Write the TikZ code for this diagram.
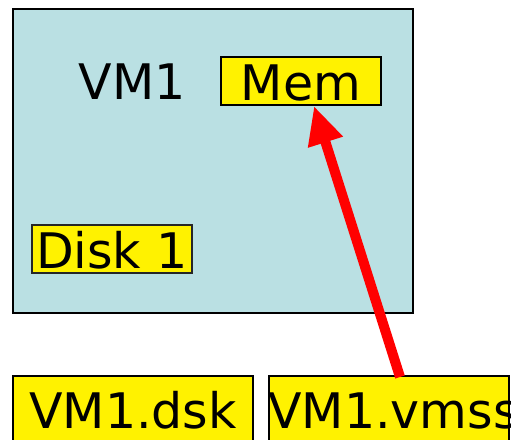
\documentclass[tikz,border=0pt]{standalone}
\usepackage{fontspec}
\setmainfont{DejaVu Sans}
\usetikzlibrary{arrows.meta,calc}
\definecolor{vmblue}{RGB}{186,224,227}
\begin{document}
\begin{tikzpicture}[x=1pt,y=-1pt,
  yellowbox/.style={draw=black,fill=yellow,line width=2pt,rectangle,inner sep=0pt,
    minimum width=160pt,minimum height=48pt,font=\fontsize{49}{49}\selectfont,
    text height=38pt,text depth=0pt},
  filebox/.style={yellowbox,minimum width=240pt,minimum height=66pt},
  bigtext/.style={font=\fontsize{49}{49}\selectfont,inner sep=0pt},
  redarrow/.style={draw=red,line width=10pt,-{Triangle[length=38pt,width=34pt]}}]
\useasboundingbox (0,0) rectangle (511,439);
\clip (0,0) rectangle (511,439);
\node[draw=black,fill=vmblue,line width=2pt,rectangle,inner sep=0pt,
  minimum width=400pt,minimum height=304pt] (vm) at (213,161) {};
\node[bigtext,anchor=base] (vmlabel) at (132,99) {VM1};
\node[yellowbox] (mem) at (301,81) {Mem};
\node[yellowbox,line width=1.5pt,draw=black!85] (disk) at (112,249) {Disk 1};
\node[filebox] (dsk) at (133,409) {VM1.dsk};
\node[filebox] (vmss) at (389,409) {};
\node[bigtext,anchor=base west] (vmsslabel) at (268,428) {VM1.vmss};
\coordinate (start) at ($(vmss.north)+(11,2)$);
\coordinate (tip) at ($(mem.south)+(13,0)$);
\draw[redarrow] (start) -- (tip);
\end{tikzpicture}
\end{document}
